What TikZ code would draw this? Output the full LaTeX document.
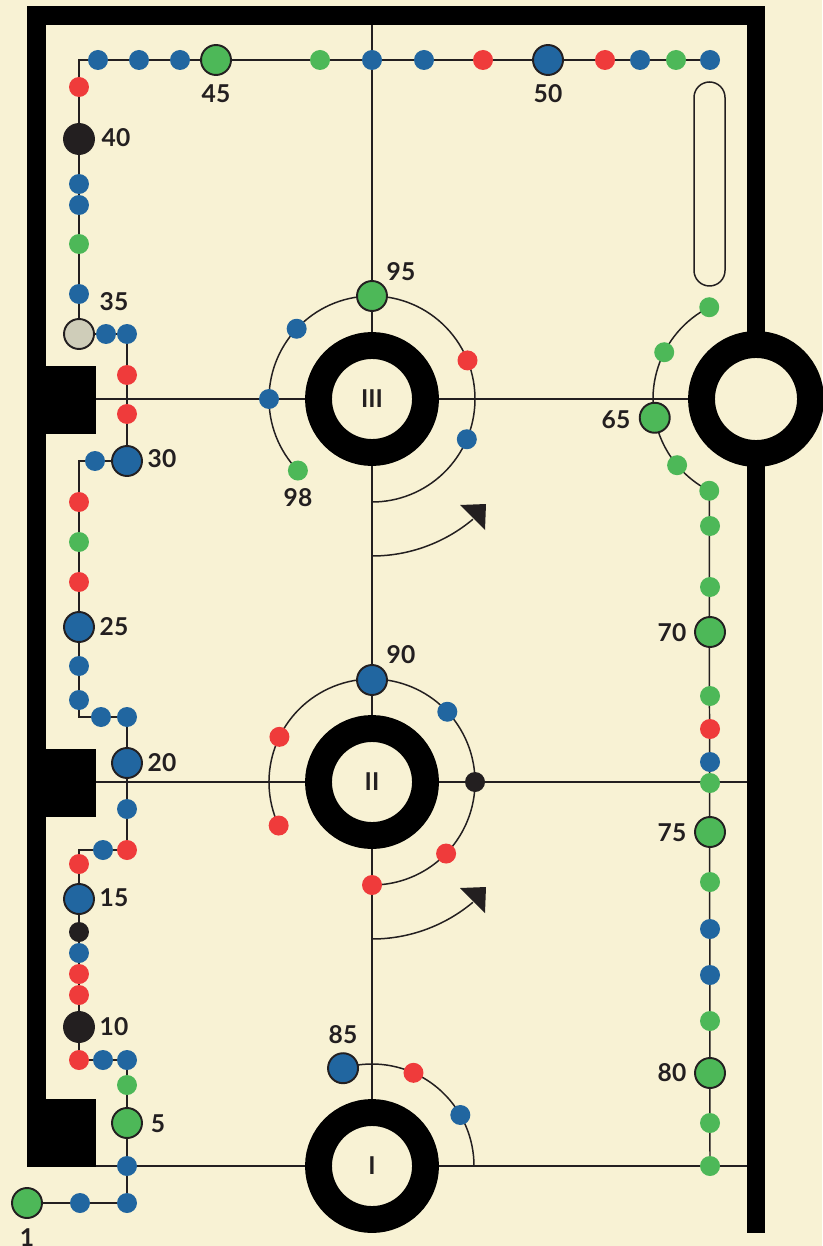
\documentclass[tikz,border=0pt]{standalone}
\usepackage{fontspec}
\setmainfont{Lato}
\definecolor{cCream}{RGB}{248,242,212}
\definecolor{cInk}{RGB}{35,31,32}
\definecolor{cBlue}{RGB}{33,102,160}
\definecolor{cRed}{RGB}{239,59,59}
\definecolor{cGreen}{RGB}{77,184,88}
\definecolor{cPebble}{RGB}{207,205,185}
\begin{document}
\begin{tikzpicture}[x=0.02cm,y=-0.02cm]
	\tikzset{dot/.style={circle,inner sep=0pt,minimum size=0.4cm},
	         bdot/.style={dot,fill=cBlue}, rdot/.style={dot,fill=cRed},
	         gdot/.style={dot,fill=cGreen}, kdot/.style={dot,fill=cInk},
	         stn/.style={circle,draw=cInk,line width=1.1pt,inner sep=0pt,minimum size=0.6cm},
	         route/.style={draw=cInk,line width=0.85pt},
	         ring/.style={draw=black,fill=cCream,line width=15.3pt},
	         num/.style={font=\bfseries\fontsize{14}{14}\selectfont,text=cInk,inner sep=0pt}}
	\useasboundingbox (0,0) rectangle (822,1246);
	\fill[cCream] (0,0) rectangle (822,1246);
	% walls
	\fill[black] (27,6) rectangle (46,1167);
	\fill[black] (27,6) rectangle (765,25);
	\fill[black] (747,6) rectangle (765,1233);
	\fill[black] (27,366) rectangle (96,434);
	\fill[black] (27,749) rectangle (96,817);
	\fill[black] (27,1099) rectangle (96,1167);
	% rings and axes
	\coordinate (rI) at (372,1166);
	\coordinate (rII) at (372,782);
	\coordinate (rIII) at (372,399);
	\coordinate (rE) at (756,399);
	\coordinate (top) at (372,25);
	\coordinate (wI) at (96,1166);  \coordinate (eI) at (747,1166);
	\coordinate (wII) at (96,782);  \coordinate (eII) at (747,782);
	\coordinate (wIII) at (96,399);
	% left route
	\coordinate (s1) at (27,1203);
	\coordinate (a1) at (80,1203);  \coordinate (a2) at (127,1203);
	\coordinate (a3) at (127,1166); \coordinate (s5) at (127,1123);
	\coordinate (a4) at (127,1085); \coordinate (a5) at (127,1060);
	\coordinate (a6) at (103,1060); \coordinate (a7) at (79,1060);
	\coordinate (s10) at (79,1027);
	\coordinate (a8) at (79,995);   \coordinate (a9) at (79,974);
	\coordinate (a10) at (79,953);  \coordinate (a11) at (79,932);
	\coordinate (s15) at (79,899);  \coordinate (a12) at (79,864);
	\coordinate (k1) at (79,850);
	\coordinate (a13) at (103,850); \coordinate (a14) at (127,850);
	\coordinate (a15) at (127,809); \coordinate (s20) at (127,763);
	\coordinate (a16) at (127,717); \coordinate (a17) at (101,717);
	\coordinate (k2) at (79,717);
	\coordinate (a18) at (79,700);  \coordinate (a19) at (79,666);
	\coordinate (s25) at (79,627);
	\coordinate (a20) at (79,582);  \coordinate (a21) at (79,542);
	\coordinate (a22) at (79,502);  \coordinate (k3) at (79,461);
	\coordinate (a23) at (95,461);  \coordinate (s30) at (127,461);
	\coordinate (a24) at (127,414); \coordinate (a25) at (127,375);
	\coordinate (a26) at (127,334); \coordinate (a27) at (106,334);
	\coordinate (s35) at (79,334);
	\coordinate (a28) at (79,294);  \coordinate (a29) at (79,244);
	\coordinate (a30) at (79,205);  \coordinate (a31) at (79,184);
	\coordinate (s40) at (79,139);  \coordinate (a32) at (79,87);
	\coordinate (k4) at (79,60);
	\coordinate (a33) at (98,60);   \coordinate (a34) at (139,60);
	\coordinate (a35) at (180,60);  \coordinate (s45) at (216,60);
	\coordinate (a36) at (320,60);  \coordinate (a37) at (372,60);
	\coordinate (a38) at (424,60);  \coordinate (a39) at (483,60);
	\coordinate (s50) at (548,60);  \coordinate (a40) at (605,60);
	\coordinate (a41) at (640,60);  \coordinate (a42) at (676,60);
	\coordinate (a43) at (710,60);
	% right route
	\coordinate (b1) at ([shift={(-117:103)}]rE);
	\coordinate (b2) at ([shift={(-153:103)}]rE);
	\coordinate (s65) at ([shift={(-190.5:103)}]rE);
	\coordinate (b3) at ([shift={(-220:103)}]rE);
	\coordinate (b4) at ([shift={(-243:103)}]rE);
	\coordinate (b5) at (710,526);  \coordinate (b6) at (710,587);
	\coordinate (s70) at (710,632);
	\coordinate (b7) at (710,696);  \coordinate (b8) at (710,729);
	\coordinate (b9) at (710,762);  \coordinate (b10) at (710,783);
	\coordinate (s75) at (710,832);
	\coordinate (b11) at (710,882); \coordinate (b12) at (710,929);
	\coordinate (b13) at (710,975); \coordinate (b14) at (710,1021);
	\coordinate (s80) at (710,1073);
	\coordinate (b15) at (710,1123); \coordinate (b16) at (710,1166);
	% orbits
	\coordinate (c1) at ([shift={(-224:103)}]rIII);
	\coordinate (c2) at ([shift={(-180:103)}]rIII);
	\coordinate (c3) at ([shift={(-137:103)}]rIII);
	\coordinate (s95) at ([shift={(-90:103)}]rIII);
	\coordinate (c4) at ([shift={(-22:103)}]rIII);
	\coordinate (c5) at ([shift={(23:103)}]rIII);
	\coordinate (d1) at ([shift={(-205:103)}]rII);
	\coordinate (d2) at ([shift={(-154:103)}]rII);
	\coordinate (s90) at ([shift={(-90:102)}]rII);
	\coordinate (d3) at ([shift={(-43:103)}]rII);
	\coordinate (d4) at ([shift={(0:103)}]rII);
	\coordinate (d5) at ([shift={(44:103)}]rII);
	\coordinate (d6) at ([shift={(90:103)}]rII);
	\coordinate (s85) at ([shift={(-106.5:102)}]rI);
	\coordinate (e1) at ([shift={(-66:102)}]rI);
	\coordinate (e2) at ([shift={(-30:102)}]rI);
	\coordinate (fIII) at ([shift={(90:157)}]rIII);
	\coordinate (fII) at ([shift={(90:157)}]rII);
	% lines
	\draw[route] (top)--(rI);
	\draw[route] (wIII)--(rE);
	\draw[route] (wII)--(eII);
	\draw[route] (wI)--(eI);
	\draw[route] (s1)--(a2)--(a5)--(a7)--(k1)--(a14)--(a16)--(k2)--(k3)--(s30)
	             --(a26)--(s35)--(k4)--(a43);
	\draw[route] (b1) arc[start angle=-117,end angle=-243,radius=103] -- (b16);
	\draw[route] (c1) arc[start angle=-224,end angle=90,radius=103];
	\draw[route] (d1) arc[start angle=-205,end angle=90,radius=103];
	\draw[route] (s85) arc[start angle=-106.5,end angle=0,radius=102];
	\draw[route] (fIII) arc[start angle=90,end angle=50,radius=157];
	\draw[route] (fII) arc[start angle=90,end angle=50,radius=157];
	\fill[cInk] (460,505)--(486,504)--(485,530)--cycle;
	\fill[cInk] (460,888)--(486,887)--(485,913)--cycle;
	\draw[route,rounded corners=0.31cm] (694,82) rectangle (725,286);
	\draw[ring] (rI) circle[radius=53.5];
	\draw[ring] (rII) circle[radius=53.5];
	\draw[ring] (rIII) circle[radius=53.5];
	\draw[ring] (rE) circle[radius=54.5];
	% dots
	\node[bdot] (na1) at (a1) {};   \node[bdot] (na2) at (a2) {};
	\node[bdot] (na3) at (a3) {};   \node[gdot] (na4) at (a4) {};
	\node[bdot] (na5) at (a5) {};   \node[bdot] (na6) at (a6) {};
	\node[rdot] (na7) at (a7) {};   \node[rdot] (na8) at (a8) {};
	\node[rdot] (na9) at (a9) {};   \node[bdot] (na10) at (a10) {};
	\node[kdot] (na11) at (a11) {}; \node[rdot] (na12) at (a12) {};
	\node[bdot] (na13) at (a13) {}; \node[rdot] (na14) at (a14) {};
	\node[bdot] (na15) at (a15) {}; \node[bdot] (na16) at (a16) {};
	\node[bdot] (na17) at (a17) {}; \node[bdot] (na18) at (a18) {};
	\node[bdot] (na19) at (a19) {}; \node[rdot] (na20) at (a20) {};
	\node[gdot] (na21) at (a21) {}; \node[rdot] (na22) at (a22) {};
	\node[bdot] (na23) at (a23) {}; \node[rdot] (na24) at (a24) {};
	\node[rdot] (na25) at (a25) {}; \node[bdot] (na26) at (a26) {};
	\node[bdot] (na27) at (a27) {}; \node[bdot] (na28) at (a28) {};
	\node[gdot] (na29) at (a29) {}; \node[bdot] (na30) at (a30) {};
	\node[bdot] (na31) at (a31) {}; \node[rdot] (na32) at (a32) {};
	\node[bdot] (na33) at (a33) {}; \node[bdot] (na34) at (a34) {};
	\node[bdot] (na35) at (a35) {}; \node[gdot] (na36) at (a36) {};
	\node[bdot] (na37) at (a37) {}; \node[bdot] (na38) at (a38) {};
	\node[rdot] (na39) at (a39) {}; \node[rdot] (na40) at (a40) {};
	\node[bdot] (na41) at (a41) {}; \node[gdot] (na42) at (a42) {};
	\node[bdot] (na43) at (a43) {};
	\node[gdot] (nb1) at (b1) {};   \node[gdot] (nb2) at (b2) {};
	\node[gdot] (nb3) at (b3) {};   \node[gdot] (nb4) at (b4) {};
	\node[gdot] (nb5) at (b5) {};   \node[gdot] (nb6) at (b6) {};
	\node[gdot] (nb7) at (b7) {};   \node[rdot] (nb8) at (b8) {};
	\node[bdot] (nb9) at (b9) {};   \node[gdot] (nb10) at (b10) {};
	\node[gdot] (nb11) at (b11) {}; \node[bdot] (nb12) at (b12) {};
	\node[bdot] (nb13) at (b13) {}; \node[gdot] (nb14) at (b14) {};
	\node[gdot] (nb15) at (b15) {}; \node[gdot] (nb16) at (b16) {};
	\node[gdot] (nc1) at (c1) {};   \node[bdot] (nc2) at (c2) {};
	\node[bdot] (nc3) at (c3) {};   \node[rdot] (nc4) at (c4) {};
	\node[bdot] (nc5) at (c5) {};
	\node[rdot] (nd1) at (d1) {};   \node[rdot] (nd2) at (d2) {};
	\node[bdot] (nd3) at (d3) {};   \node[kdot] (nd4) at (d4) {};
	\node[rdot] (nd5) at (d5) {};   \node[rdot] (nd6) at (d6) {};
	\node[rdot] (ne1) at (e1) {};   \node[bdot] (ne2) at (e2) {};
	% stations
	\node[stn,fill=cGreen] (n1) at (s1) {};   \node[stn,fill=cGreen] (n5) at (s5) {};
	\node[stn,fill=cInk] (n10) at (s10) {};   \node[stn,fill=cBlue] (n15) at (s15) {};
	\node[stn,fill=cBlue] (n20) at (s20) {};  \node[stn,fill=cBlue] (n25) at (s25) {};
	\node[stn,fill=cBlue] (n30) at (s30) {};  \node[stn,fill=cPebble] (n35) at (s35) {};
	\node[stn,fill=cInk] (n40) at (s40) {};   \node[stn,fill=cGreen] (n45) at (s45) {};
	\node[stn,fill=cBlue] (n50) at (s50) {};  \node[stn,fill=cGreen] (n65) at (s65) {};
	\node[stn,fill=cGreen] (n70) at (s70) {}; \node[stn,fill=cGreen] (n75) at (s75) {};
	\node[stn,fill=cGreen] (n80) at (s80) {}; \node[stn,fill=cBlue] (n85) at (s85) {};
	\node[stn,fill=cBlue] (n90) at (s90) {};  \node[stn,fill=cGreen] (n95) at (s95) {};
	% labels
	\node[num] (l1) at (27,1238) {1};    \node[num] (l5) at (158,1124) {5};
	\node[num] (l10) at (114,1027) {10}; \node[num] (l15) at (114,898) {15};
	\node[num] (l20) at (162,763) {20};  \node[num] (l25) at (114,627) {25};
	\node[num] (l30) at (162,459) {30};  \node[num] (l35) at (114,302) {35};
	\node[num] (l40) at (116,138) {40};  \node[num] (l45) at (216,94) {45};
	\node[num] (l50) at (548,94) {50};   \node[num] (l65) at (616,420) {65};
	\node[num] (l70) at (672,633) {70};  \node[num] (l75) at (672,833) {75};
	\node[num] (l80) at (672,1073) {80}; \node[num] (l85) at (343,1035) {85};
	\node[num] (l90) at (401,655) {90};  \node[num] (l95) at (401,272) {95};
	\node[num] (l98) at (298,498) {98};
	\node[num] (tI) at (rI) {I};
	\node[num] (tII) at (rII) {II};
	\node[num] (tIII) at (rIII) {III};
\end{tikzpicture}
\end{document}
